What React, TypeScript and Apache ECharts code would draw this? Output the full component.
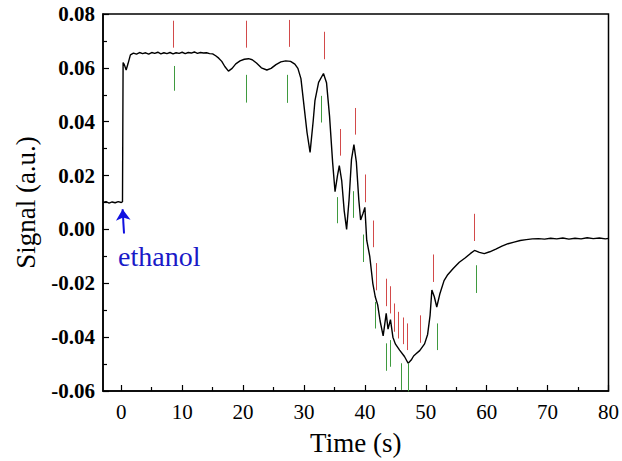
import React, { useEffect, useRef } from "react";
import * as echarts from "echarts";

const time = [
  -3.0, -2.5, -2.0, -1.5, -1.0, -0.5, 0.0, 0.2, 0.3, 0.5, 0.8, 1.1, 1.5, 2.0, 2.5, 3.0, 3.5, 4.0, 4.5, 5.0,
  5.5, 6.0, 6.5, 7.0, 7.5, 8.0, 8.5, 9.0, 9.5, 10.0, 10.5, 11.0, 11.5, 12.0, 12.5, 13.0, 13.5, 14.0, 14.5, 15.0,
  15.5, 16.0, 16.5, 17.0, 17.6, 18.2, 18.8, 19.5, 20.2, 20.9, 21.5, 22.2, 23.0, 23.9, 24.6, 25.4, 26.2, 27.0, 27.8, 28.5,
  29.0, 29.5, 30.0, 30.5, 31.0, 31.5, 31.8, 32.4, 33.2, 33.7, 34.2, 34.7, 35.1, 35.5, 35.8, 36.2, 36.6, 37.0, 37.4, 37.8,
  38.2, 38.6, 39.0, 39.3, 39.7, 40.0, 40.3, 40.8, 41.3, 41.7, 42.1, 42.5, 43.0, 43.5, 43.8, 44.2, 44.6, 45.0, 45.7, 46.5,
  47.1, 47.6, 48.0, 48.4, 49.0, 49.8, 50.3, 50.7, 51.0, 51.4, 51.8, 52.3, 53.0, 53.6, 54.5, 55.5, 56.5, 57.3, 58.0, 58.8,
  59.6, 60.5, 61.5, 62.5, 63.5, 64.5, 65.5, 66.5, 67.5, 68.5, 69.5, 70.5, 71.5, 72.5, 73.5, 74.5, 75.5, 76.5, 77.5, 78.5,
  79.5, 80.0,
];

const signal = [
  0.0100, 0.0103, 0.0098, 0.0102, 0.0099, 0.0103, 0.0100, 0.0103, 0.0620, 0.0612, 0.0592, 0.0615, 0.0648, 0.0655, 0.0651, 0.0657, 0.0653, 0.0656, 0.0651, 0.0657,
  0.0654, 0.0658, 0.0652, 0.0656, 0.0653, 0.0657, 0.0652, 0.0656, 0.0654, 0.0658, 0.0653, 0.0657, 0.0655, 0.0659, 0.0654, 0.0657, 0.0655, 0.0656, 0.0653, 0.0652,
  0.0645, 0.0636, 0.0624, 0.0605, 0.0588, 0.0598, 0.0615, 0.0626, 0.0632, 0.0634, 0.0630, 0.0618, 0.0600, 0.0592, 0.0598, 0.0612, 0.0622, 0.0626, 0.0624, 0.0614,
  0.0598, 0.0560, 0.0460, 0.0360, 0.0286, 0.0400, 0.0478, 0.0546, 0.0579, 0.0545, 0.0420, 0.0250, 0.0140, 0.0200, 0.0237, 0.0180, 0.0070, 0.0000, 0.0110, 0.0260,
  0.0315, 0.0250, 0.0110, 0.0035, 0.0060, 0.0082, -0.0040, -0.0100, -0.0200, -0.0250, -0.0280, -0.0340, -0.0395, -0.0312, -0.0370, -0.0335, -0.0400, -0.0425, -0.0448, -0.0472,
  -0.0497, -0.0485, -0.0470, -0.0462, -0.0450, -0.0425, -0.0390, -0.0320, -0.0225, -0.0250, -0.0288, -0.0240, -0.0190, -0.0168, -0.0145, -0.0122, -0.0105, -0.0090, -0.0078, -0.0085,
  -0.0090, -0.0083, -0.0073, -0.0062, -0.0053, -0.0047, -0.0041, -0.0038, -0.0035, -0.0034, -0.0036, -0.0033, -0.0035, -0.0032, -0.0036, -0.0033, -0.0035, -0.0031, -0.0034, -0.0032,
  -0.0035, -0.0033,
];

const redT = [8.5, 20.57, 27.53, 33.3, 35.9, 38.37, 40.05, 41.35, 41.9, 43.43, 44.24, 44.9, 45.55, 46.25, 46.96, 49.03, 51.15, 57.96];
const redTop = [0.0775, 0.0775, 0.0778, 0.0734, 0.0373, 0.0451, 0.0204, 0.0033, -0.0125, -0.0183, -0.0211, -0.0275, -0.0306, -0.0327, -0.0349, -0.0319, -0.0093, 0.0058];
const redBottom = [0.0675, 0.0675, 0.0678, 0.0632, 0.0274, 0.0352, 0.0101, -0.0066, -0.0226, -0.0285, -0.0312, -0.038, -0.0405, -0.0426, -0.0448, -0.0421, -0.0195, -0.0043];

const greenT = [8.7, 20.46, 27.2, 32.9, 35.5, 38.04, 39.8, 41.76, 43.43, 44.2, 45.98, 47.07, 51.8, 58.3];
const greenTop = [0.0607, 0.0574, 0.0574, 0.0496, 0.012, 0.0142, -0.0019, -0.0269, -0.0423, -0.0411, -0.0497, -0.0497, -0.0349, -0.0133];
const greenBottom = [0.0515, 0.0471, 0.047, 0.0397, 0.0023, 0.0043, -0.0121, -0.0368, -0.0525, -0.051, -0.0596, -0.0603, -0.0448, -0.0236];

const xTicks = [0, 10, 20, 30, 40, 50, 60, 70, 80];
const xMinorTicks = [5, 15, 25, 35, 45, 55, 65, 75];

const arrowFrom = [0.45, -0.0015];
const arrowTo = [0.22, 0.0075];
const annotation = "ethanol";

export default function App() {
  const ref = useRef<HTMLDivElement>(null);
  useEffect(() => {
    const chart = echarts.init(ref.current!, null, { renderer: "svg" });
    const serif = "'Liberation Serif', 'Times New Roman', serif";
    const option: any = {
      animation: false,
      backgroundColor: "#fff",
      grid: {
        left: 103,
        right: 10,
        top: 14,
        bottom: 70,
        show: true,
        borderColor: "#000",
        borderWidth: 1.5,
      },
      xAxis: [
        {
          type: "value",
          min: -3,
          max: 80,
          name: "Time (s)",
          nameLocation: "middle",
          nameGap: 38,
          nameTextStyle: { fontFamily: serif, fontSize: 27, color: "#000" },
          axisLine: { show: true, onZero: false, lineStyle: { color: "#000", width: 1.5 } },
          axisTick: { show: true, inside: true, length: 6, customValues: xTicks, lineStyle: { color: "#000", width: 1.2 } },
          axisLabel: { customValues: xTicks, fontFamily: serif, fontSize: 21, color: "#000", margin: 10 },
          splitLine: { show: false },
        },
        {
          type: "value",
          min: -3,
          max: 80,
          position: "bottom",
          axisLine: { show: false, onZero: false },
          axisTick: { show: true, inside: true, length: 4, customValues: xMinorTicks, lineStyle: { color: "#000", width: 1.2 } },
          axisLabel: { show: false },
          splitLine: { show: false },
        },
      ],
      yAxis: {
        type: "value",
        min: -0.06,
        max: 0.08,
        interval: 0.02,
        name: "Signal (a.u.)",
        nameLocation: "middle",
        nameGap: 64,
        nameTextStyle: { fontFamily: serif, fontSize: 27, color: "#000" },
        axisLine: { show: true, onZero: false, lineStyle: { color: "#000", width: 1.5 } },
        axisTick: { show: true, inside: true, length: 6, lineStyle: { color: "#000", width: 1.2 } },
        minorTick: { show: true, splitNumber: 2, length: 4, lineStyle: { color: "#000", width: 1.2 } },
        axisLabel: {
          fontFamily: serif,
          fontSize: 21,
          fontWeight: "bold",
          color: "#000",
          margin: 8,
          formatter: (v: number) => (Math.abs(v) < 1e-9 ? "0.00" : v.toFixed(2)),
        },
        splitLine: { show: false },
      },
      series: [
        {
          type: "line",
          data: time.map((t, i) => [t, signal[i]]),
          showSymbol: false,
          symbol: "none",
          lineStyle: { color: "#000", width: 1.4 },
          z: 3,
        },
        {
          type: "lines",
          coordinateSystem: "cartesian2d",
          data: redT.map((t, i) => ({ coords: [[t, redTop[i]], [t, redBottom[i]]] })),
          lineStyle: { color: "#d24a4a", width: 1, opacity: 1 },
          z: 4,
        },
        {
          type: "lines",
          coordinateSystem: "cartesian2d",
          data: greenT.map((t, i) => ({ coords: [[t, greenTop[i]], [t, greenBottom[i]]] })),
          lineStyle: { color: "#3f9a3f", width: 1, opacity: 1 },
          z: 4,
        },
        {
          type: "lines",
          coordinateSystem: "cartesian2d",
          symbol: ["none", "arrow"],
          symbolSize: [7, 11],
          data: [{ coords: [arrowFrom, arrowTo] }],
          lineStyle: { color: "#1010e0", width: 2, opacity: 1 },
          itemStyle: { color: "#1010e0" },
          z: 4,
        },
      ],
      graphic: [
        {
          type: "text",
          x: 118,
          y: 256,
          style: {
            text: annotation,
            fontFamily: serif,
            fontSize: 28,
            fill: "#1a1ac8",
            verticalAlign: "middle",
            align: "left",
          },
        },
      ],
    };
    chart.setOption(option);
    return () => chart.dispose();
  }, []);
  return <div ref={ref} style={{ position: "fixed", left: 0, top: 0, width: 622, height: 461 }} />;
}
